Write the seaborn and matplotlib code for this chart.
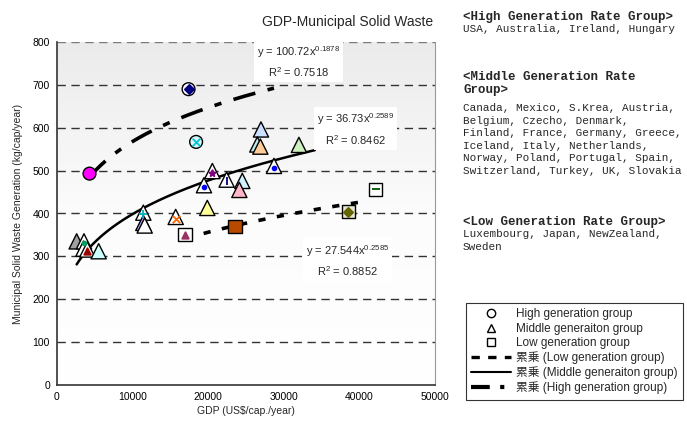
import numpy as np
import pandas as pd
import matplotlib
matplotlib.use("Agg")
import matplotlib.pyplot as plt
import seaborn as sns
from matplotlib.colors import LinearSegmentedColormap
from matplotlib.lines import Line2D
from matplotlib.font_manager import FontProperties

# --- Data ---
high_gdp   = [17400, 18400, 4300]
high_msw   = [690, 567, 493]
high_face  = ["white", "#d8f6fa", "#ff00ff"]
high_inner = ["D", "x", None]
high_icol  = ["#000080", "#00c8d8", None]

mid_gdp   = [26980, 26500, 26900, 32000, 20550, 28700, 19440, 22440, 24510, 24120,
             19880, 11420, 11420, 11600, 15700, 2600, 3570, 3500, 4010, 5510]
mid_msw   = [596, 561, 556, 560, 499, 511, 466, 479, 476, 455,
             413, 402, 378, 372, 392, 335, 335, 318, 316, 312]
mid_face  = ["#cce0ff", "#bfeeee", "#ffcc99", "#ccf0c0", "white", "white", "white", "white", "#d0f4ff", "#ffb6c8",
             "#ffff99", "white", "#b8a0ff", "white", "white", "#a0a0a0", "white", "white", "white", "#ccffff"]
mid_inner = [None, None, None, None, "*", ".", ".", "|", None, None,
             None, "+", None, None, "x", None, ".", None, "^", None]
mid_icol  = [None, None, None, None, "#800080", "#0000ff", "#0000ff", "#000080", None, None,
             None, "#00b0c0", None, None, "#ff6600", None, "#00a060", None, "#990000", None]

low_gdp   = [16930, 23540, 38530, 42150]
low_msw   = [351, 369, 404, 456]
low_face  = ["white", "#b84a00", "#e8e8d8", "white"]
low_inner = ["^", None, "D", "_"]
low_icol  = ["#993366", None, "#666600", "#005500"]

# power trendlines as printed on the chart: y = a * x^b
high_fit = dict(a=100.72, b=0.1878, r2=0.7518, x0=4300, x1=28700)
mid_fit  = dict(a=36.73,  b=0.2589, r2=0.8462, x0=2600, x1=34100)
low_fit  = dict(a=27.544, b=0.2585, r2=0.8852, x0=17000, x1=40600)

high_countries = ["USA, Australia, Ireland, Hungary"]
mid_countries = ["Canada, Mexico, S.Krea, Austria,",
                 "Belgium, Czecho, Denmark,",
                 "Finland, France, Germany, Greece,",
                 "Iceland, Italy, Netherlands,",
                 "Norway, Poland, Portugal, Spain,",
                 "Switzerland, Turkey, UK, Slovakia"]
low_countries = ["Luxembourg, Japan, NewZealand,", "Sweden"]

# --- Style ---
sns.set_style("white")
plt.rcParams["font.family"] = ["Liberation Sans", "Noto Sans CJK JP", "DejaVu Sans"]
plt.rcParams["mathtext.fontset"] = "custom"
plt.rcParams["mathtext.rm"] = "Liberation Sans"
plt.rcParams["mathtext.it"] = "Liberation Sans:italic"

W, H = 687, 423
fig = plt.figure(figsize=(W / 100, H / 100), dpi=100)
ax = fig.add_axes([57 / W, 1 - 385 / H, (435 - 57) / W, (385 - 42) / H])

# gradient background
grad = LinearSegmentedColormap.from_list("bg", ["#ffffff", "#fcfcfc", "#ebebeb"])
ax.imshow(np.linspace(0, 1, 256).reshape(-1, 1), extent=[0, 50000, 0, 800],
          aspect="auto", origin="lower", cmap=grad, zorder=0)

for yv in range(100, 801, 100):
    ax.axhline(yv, color="#7a7a7a" if yv == 800 else "#333333", lw=1,
               ls=(0, (6, 4)), zorder=1)

# trend curves
def curve(fit):
    xs = np.linspace(fit["x0"], fit["x1"], 200)
    return pd.DataFrame({"x": xs, "y": fit["a"] * xs ** fit["b"]})

c = curve(low_fit)
sns.lineplot(data=c, x="x", y="y", ax=ax, color="black", lw=2.6,
             ls=(0, (2, 3.2)), zorder=3)
c = curve(mid_fit)
sns.lineplot(data=c, x="x", y="y", ax=ax, color="black", lw=1.8, zorder=3)
c = curve(high_fit)
sns.lineplot(data=c, x="x", y="y", ax=ax, color="black", lw=2.6,
             ls=(0, (6.3, 3.5, 2, 3.5)), zorder=3)

# points
df = pd.DataFrame({
    "gdp": high_gdp + mid_gdp + low_gdp,
    "msw": high_msw + mid_msw + low_msw,
    "group": ["High"] * len(high_gdp) + ["Middle"] * len(mid_gdp) + ["Low"] * len(low_gdp),
    "face": high_face + mid_face + low_face,
    "inner": high_inner + mid_inner + low_inner,
    "icol": high_icol + mid_icol + low_icol,
})
df["pid"] = [f"p{i}" for i in range(len(df))]
sns.scatterplot(data=df, x="gdp", y="msw", hue="pid",
                palette=dict(zip(df["pid"], df["face"])),
                style="group", markers={"High": "o", "Middle": "^", "Low": "s"},
                size="group", sizes={"High": 85, "Middle": 120, "Low": 90},
                edgecolor="black", linewidth=1.0, legend=False, ax=ax, zorder=4)
for _, r in df.dropna(subset=["inner"]).iterrows():
    ax.scatter(r["gdp"], r["msw"] - (4 if r["group"] == "Middle" else 0),
               marker=r["inner"], s=22 if r["inner"] in ("D", "^", "*") else 30,
               color=r["icol"], linewidths=1.3, zorder=5)

ax.set_xlim(0, 50000)
ax.set_ylim(0, 800)
ax.set_xticks(range(0, 50001, 10000))
ax.set_yticks(range(0, 801, 100))
ax.tick_params(labelsize=7.5, direction="out", length=3, width=0.8, colors="black", pad=2)
ax.set_xlabel(r"GDP (US\$/cap./year)", fontsize=7.5, labelpad=3)
ax.set_ylabel("Municipal Solid Waste Generation (kg/cap/year)", fontsize=7.5, labelpad=7)
for s in ["left", "bottom"]:
    ax.spines[s].set_color("#333333")
    ax.spines[s].set_linewidth(1.2)
ax.spines["right"].set_color("#999999")
ax.spines["top"].set_visible(False)

# equation boxes
box = dict(facecolor="white", edgecolor="none", pad=2)
for fit, (ex, ey) in [(high_fit, (31900, 754)), (mid_fit, (39500, 597)), (low_fit, (38400, 290))]:
    ax.text(ex, ey, f"y = {fit['a']}x$^{{{fit['b']}}}$\nR$^{{2}}$ = {fit['r2']}",
            ha="center", va="center", fontsize=8, linespacing=1.5, bbox=box, zorder=6)

fig.text(433 / W, 1 - 22 / H, "GDP-Municipal Solid Waste", ha="right", va="center", fontsize=10)

# right-hand country lists
mono = "Liberation Mono"
def line(y, txt, bold=False):
    fig.text(463 / W, 1 - y / H, txt, family=mono, fontsize=9 if bold else 7.9,
             weight="bold" if bold else "normal", va="center", ha="left")

line(17, "<High Generation Rate Group>", True)
for i, t in enumerate(high_countries):
    line(29 + 12.6 * i, t)
line(77, "<Middle Generation Rate", True)
line(90, "Group>", True)
for i, t in enumerate(mid_countries):
    line(108 + 12.6 * i, t)
line(222, "<Low Generation Rate Group>", True)
for i, t in enumerate(low_countries):
    line(234 + 12.6 * i, t)

# legend
handles = [
    Line2D([], [], ls="none", marker="o", mfc="none", mec="black", ms=6),
    Line2D([], [], ls="none", marker="^", mfc="none", mec="black", ms=6),
    Line2D([], [], ls="none", marker="s", mfc="none", mec="black", ms=6),
    Line2D([], [], color="black", lw=2.4, ls=(0, (2.5, 2.5))),
    Line2D([], [], color="black", lw=1.5),
    Line2D([], [], color="black", lw=3, ls=(0, (4.5, 2.5, 1, 2.5))),
]
labels = ["High generation group", "Middle generaiton group", "Low generation group",
          "累乗 (Low generation group)", "累乗 (Middle generaiton group)",
          "累乗 (High generation group)"]
leg = fig.legend(handles, labels, loc="upper left", bbox_to_anchor=(466 / W, 1 - 303 / H),
                 prop=FontProperties(family=["Liberation Sans", "Noto Sans CJK JP"], size=8.5),
                 frameon=True, fancybox=False, borderpad=0.45, labelspacing=0.2,
                 handlelength=3.4, handletextpad=0.4, borderaxespad=0)
leg.get_frame().set_edgecolor("black")
leg.get_frame().set_linewidth(0.8)

fig.savefig("out.png", dpi=100)
